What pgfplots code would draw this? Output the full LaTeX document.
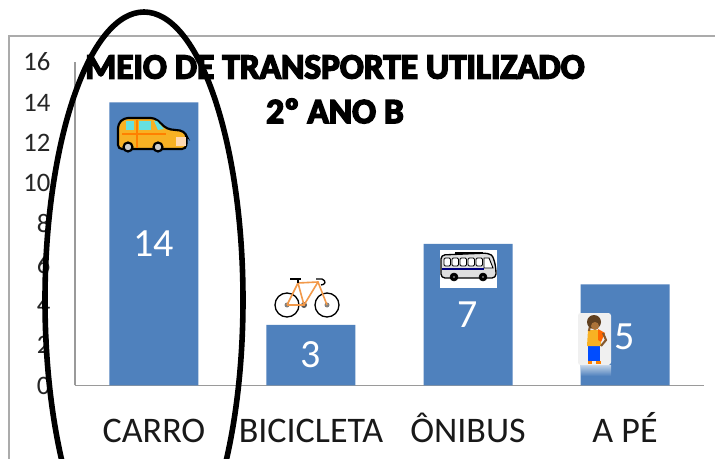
\documentclass[border=0pt]{standalone}
\usepackage{fontspec}
\setmainfont{Carlito}
\newfontfamily\titlefont[FakeBold=4.5]{Carlito Bold}
\usepackage{pgfplots}
\pgfplotsset{compat=1.18}
\definecolor{barblue}{HTML}{4F81BD}
\definecolor{framegray}{HTML}{ABABAB}
\definecolor{axisgray}{HTML}{9A9A9A}
\definecolor{carbody}{HTML}{F8B123}
\definecolor{bikeorange}{HTML}{F2994A}

\begin{document}
\begin{tikzpicture}
\path[use as bounding box, fill=white] (0,0) rectangle (536.25pt,343.5pt);
\begin{axis}[
    at={(56.25pt,54.4pt)},
    anchor=south west,
    scale only axis,
    width=471.75pt,
    height=242.6pt,
    xmin=-0.503, xmax=3.503,
    ymin=0, ymax=16,
    axis lines=left,
    axis line style={-, draw=axisgray, line width=0.8pt},
    major tick length=0pt,
    xtick={0,1,2,3},
    xticklabels={CARRO,BICICLETA,ÔNIBUS,A PÉ},
    ytick={0,2,...,16},
    /pgf/number format/assume math mode=true,
    x tick label style={font=\fontsize{27}{27}\selectfont, text=black!90, yshift=-23.5pt,
        text height=16pt, text depth=0pt},
    y tick label style={font=\fontsize{20}{20}\selectfont, text=black!85, xshift=-15pt},
    clip=false,
]
\addplot[ybar, bar width=66.75pt, bar shift=0pt, fill=barblue, draw=none] coordinates {
    (0,14)
    (1,3)
    (2,7)
    (3,5)
};
% value labels sit at mid height of the bars
\addplot[only marks, mark=none, point meta=explicit symbolic,
    nodes near coords,
    every node near coord/.append style={anchor=center, text=white,
        font=\fontsize{30}{30}\selectfont}] coordinates {
    (0,7) [14]
    (1,1.5) [3]
    (2,3.5) [7]
    (3,2.4) [5]
};
\end{axis}

% everything below is in image pixels
\begin{scope}[x=0.75pt, y=-0.75pt, shift={(0pt,343.5pt)}]
\clip (0,0) rectangle (715,458);
% chart frame
\draw[framegray, line width=1.1pt] (9,470) -- (9,36) -- (730,36);

% title
\node[font=\titlefont\fontsize{26.5}{26.5}\selectfont] at (335,67) {MEIO DE TRANSPORTE UTILIZADO};
\node[font=\titlefont\fontsize{26.5}{26.5}\selectfont] at (335,111) {2º ANO B};

% car
\draw[black, line width=1.6pt, fill=carbody, rounded corners=3pt]
    (118,149) -- (118,124) -- (124,118) -- (155,118) -- (167,129) -- (184,131) -- (187,137) -- (186,149) -- cycle;
\fill[teal!40!cyan!60] (126,121) rectangle (134,130);
\fill[teal!40!cyan!60] (139,121) rectangle (151,130);
\fill[teal!40!cyan!60] (154,121) -- (157,121) -- (164,129) -- (158,130) -- cycle;
\draw[orange, line width=0.8pt] (137,120) -- (137,148);
\draw[orange, line width=0.8pt] (122,134) -- (166,134);
\fill[white!70!orange] (176,137) rectangle (186,146);
\draw[black, line width=1.6pt, fill=gray!40] (128,147) circle (4.5);
\draw[black, line width=1.6pt, fill=gray!40] (158,147) circle (4.5);

% bicycle
\draw[black, line width=1pt] (287,305) circle (12);
\draw[black, line width=1pt] (327,305) circle (12);
\fill[gray] (287,305) circle (2.5);
\fill[gray] (327,305) circle (2.5);
\fill[gray!70!black] (304,305) circle (3);
\draw[bikeorange, line width=1.2pt] (287,305) -- (304,305) -- (298,283) -- (318,282) -- (327,305);
\draw[bikeorange, line width=1.2pt] (287,305) -- (298,283);
\draw[bikeorange, line width=1.2pt] (304,305) -- (318,282);
\draw[black, line width=1.2pt] (290,279) -- (301,279);
\draw[black, line width=1pt] (298,279) -- (298,283);
\draw[black, line width=1pt] (316,279) -- (322,279) .. controls (327,281) and (325,285) .. (321,285);

% bus
\fill[white] (440,250) rectangle (497,288);
\fill[black] (455,252) rectangle (483,254);
\draw[black, line width=1pt, fill=gray!25, rounded corners=3pt]
    (441,278) -- (441,255) -- (488,253) .. controls (493,256) and (496,264) .. (496,278) -- cycle;
\foreach \wx in {444,452,460,468,476}
    \draw[black, line width=0.7pt, fill=white, rounded corners=1pt] (\wx,258) rectangle ++(6.5,8);
\draw[black, line width=0.7pt, fill=white] (484,258) -- (489,258) -- (493,268) -- (484,268) -- cycle;
\fill[blue!50!black] (442,268) rectangle (484,270);
\draw[black, fill=black] (454,277) circle (4);
\draw[black, fill=black] (483,277) circle (4);
\fill[gray] (454,277) circle (1.2);
\fill[gray] (483,277) circle (1.2);

% person on a card, with its reflection on the bar
\shade[top color=barblue!35!white, bottom color=barblue] (581,365) rectangle (611,376);
\fill[gray!12, rounded corners=2pt] (578,313) rectangle (611,365);
\fill[blue!70!cyan] (588,345) rectangle (600,361);
\fill[carbody] (588,330) -- (600,330) -- (601,346) -- (587,346) -- cycle;
\fill[orange!80!red] (598,329) -- (605,333) -- (601,342) -- (598,340) -- cycle;
\draw[brown!70!black, line width=1.6pt] (589,331) -- (590,326);
\draw[brown!70!black, line width=1.6pt] (603,333) -- (606,340) -- (601,346);
\fill[brown!50!black] (594,322) circle (7);
\fill[brown!90!black] (595,326) circle (4);
\fill[orange] (588,361) rectangle (592,364);
\fill[orange] (596,361) rectangle (601,364);

% hand drawn ellipse round the first column
\draw[black, line width=4.2pt] (144,300) ellipse (99 and 288);
\end{scope}
\end{tikzpicture}
\end{document}
